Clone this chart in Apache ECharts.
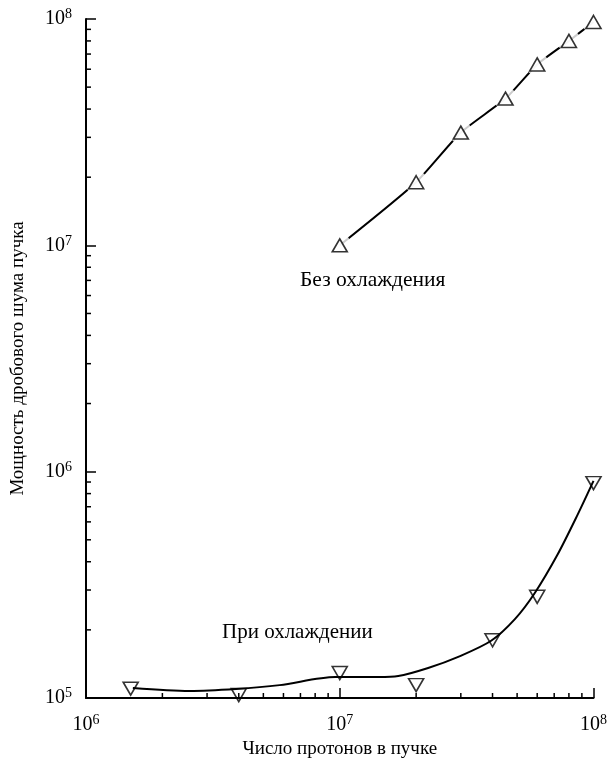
<!DOCTYPE html>
<html>
<head>
<meta charset="utf-8">
<script src="https://cdn.jsdelivr.net/npm/echarts@6/dist/echarts.min.js"></script>
<style>
html,body{margin:0;padding:0;background:#fff;}
#chart{width:610px;height:765px;}
</style>
</head>
<body>
<div id="chart"></div>
<script>
// ---- data ----
var xTitle = 'Число протонов в пучке';
var yTitle = 'Мощность дробового шума пучка';
var labelNoCool = 'Без охлаждения';
var labelCool = 'При охлаждении';

// Without cooling (upward triangles)
var xNoCool = [1e7, 2e7, 3e7, 4.5e7, 6e7, 8e7, 1e8];
var yNoCool = [1.0e7, 1.9e7, 3.15e7, 4.45e7, 6.3e7, 8.0e7, 9.7e7];

// With cooling (downward triangles)
var xCool = [1.5e6, 4e6, 1e7, 2e7, 4e7, 6e7, 1e8];
var yCool = [1.1e5, 1.03e5, 1.29e5, 1.14e5, 1.8e5, 2.8e5, 8.9e5];

// Smooth fitted curve drawn through the cooled data
var xCoolFit = [1.53e6, 2.56e6, 3.9e6, 5.8e6, 9.6e6, 1.42e7, 1.7e7, 2.23e7, 2.93e7, 3.95e7, 4.9e7, 5.87e7, 7.2e7, 8.65e7, 1e8];
var yCoolFit = [1.107e5, 1.074e5, 1.096e5, 1.14e5, 1.238e5, 1.238e5, 1.25e5, 1.357e5, 1.52e5, 1.79e5, 2.23e5, 2.91e5, 4.28e5, 6.44e5, 9.1e5];

// Axis ranges and minor tick values
var xMin = 1e6, xMax = 1e8;
var yMin = 1e5, yMax = 1e8;
var xMinorTicks = [2e6,3e6,4e6,5e6,6e6,7e6,8e6,9e6,2e7,3e7,4e7,5e7,6e7,7e7,8e7,9e7];
var yMinorTicks = [2e5,3e5,4e5,5e5,6e5,7e5,8e5,9e5,2e6,3e6,4e6,5e6,6e6,7e6,8e6,9e6,2e7,3e7,4e7,5e7,6e7,7e7,8e7,9e7];

function zip(a, b) { return a.map(function (v, i) { return [v, b[i]]; }); }

var FONT = '"Liberation Serif", "DejaVu Serif", serif';
var richPow = {
  b: { fontFamily: FONT, fontSize: 20, color: '#000' },
  s: { fontFamily: FONT, fontSize: 14, color: '#000', padding: [0, 0, 9, 0] }
};
function powFmt(v) {
  var e = Math.round(Math.log10(v));
  return '{b|10}{s|' + e + '}';
}

var chart = echarts.init(document.getElementById('chart'), null, { renderer: 'canvas' });

function minorTickRender(dir) {
  return function (params, api) {
    var p = api.coord([api.value(0), api.value(1)]);
    var x2 = dir === 'x' ? p[0] : p[0] + 5;
    var y2 = dir === 'x' ? p[1] - 5 : p[1];
    return {
      type: 'line',
      shape: { x1: p[0], y1: p[1], x2: x2, y2: y2 },
      style: { stroke: '#000', lineWidth: 1.5 }
    };
  };
}

var option = {
  animation: false,
  backgroundColor: '#fff',
  grid: { left: 86, right: 14, top: 19, bottom: 67, containLabel: false },
  xAxis: {
    type: 'log', logBase: 10, min: xMin, max: xMax, interval: 1,
    name: xTitle, nameLocation: 'middle', nameGap: 42,
    nameTextStyle: { fontFamily: FONT, fontSize: 19, color: '#000' },
    axisLine: { show: true, onZero: false, lineStyle: { color: '#000', width: 2 } },
    axisTick: { show: true, inside: true, length: 10, lineStyle: { color: '#000', width: 1.5 } },
    minorTick: { show: false },
    splitLine: { show: false },
    axisLabel: { margin: 15, formatter: powFmt, rich: richPow, showMinLabel: true, showMaxLabel: true }
  },
  yAxis: {
    type: 'log', logBase: 10, min: yMin, max: yMax, interval: 1,
    name: yTitle, nameLocation: 'middle', nameGap: 58, nameRotate: 90,
    nameTextStyle: { fontFamily: FONT, fontSize: 19, color: '#000' },
    axisLine: { show: true, onZero: false, lineStyle: { color: '#000', width: 2 } },
    axisTick: { show: true, inside: true, length: 10, lineStyle: { color: '#000', width: 1.5 } },
    minorTick: { show: false },
    splitLine: { show: false },
    axisLabel: { margin: 14, formatter: powFmt, rich: richPow, showMinLabel: true, showMaxLabel: true }
  },
  graphic: [
    { type: 'text', left: 300, top: 269, style: { text: labelNoCool, font: '21.5px ' + FONT, fill: '#000' } },
    { type: 'text', left: 222, top: 622, style: { text: labelCool, font: '21px ' + FONT, fill: '#000' } }
  ],
  series: [
    {
      type: 'custom', renderItem: minorTickRender('x'), silent: true, z: 1,
      data: xMinorTicks.map(function (v) { return [v, yMin]; })
    },
    {
      type: 'custom', renderItem: minorTickRender('y'), silent: true, z: 1,
      data: yMinorTicks.map(function (v) { return [xMin, v]; })
    },
    {
      name: labelNoCool, type: 'line', data: zip(xNoCool, yNoCool), smooth: 0.2,
      showSymbol: false, lineStyle: { color: '#000', width: 2 }, z: 2
    },
    {
      type: 'scatter', data: zip(xNoCool, yNoCool), symbol: 'circle', symbolSize: 23,
      itemStyle: { color: '#fff', borderWidth: 0 }, z: 3, silent: true
    },
    {
      type: 'scatter', data: zip(xNoCool, yNoCool), symbol: 'triangle', symbolSize: [15, 13],
      itemStyle: { color: '#fff', borderColor: '#000', borderWidth: 1.6 }, z: 4
    },
    {
      name: labelCool, type: 'line', data: zip(xCoolFit, yCoolFit), smooth: 0.3,
      showSymbol: false, lineStyle: { color: '#000', width: 2 }, z: 5
    },
    {
      type: 'scatter', data: zip(xCool, yCool), symbol: 'triangle', symbolRotate: 180, symbolSize: [15, 13],
      itemStyle: { color: 'rgba(255,255,255,0)', borderColor: '#000', borderWidth: 1.6 }, z: 6
    }
  ]
};
chart.setOption(option);
</script>
</body>
</html>
